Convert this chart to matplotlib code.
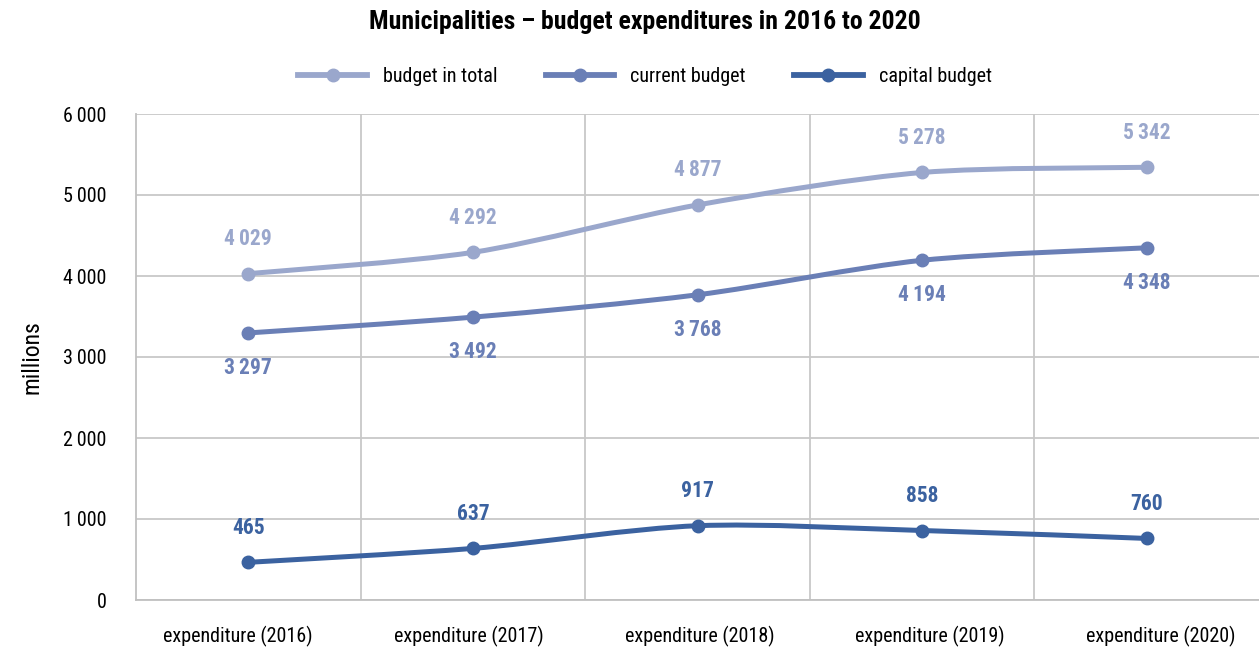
import matplotlib
matplotlib.use("Agg")
import matplotlib.pyplot as plt
from matplotlib.path import Path
from matplotlib.patches import PathPatch
from matplotlib.lines import Line2D
from matplotlib.transforms import ScaledTranslation
from matplotlib.ticker import FuncFormatter, MultipleLocator, FixedLocator

plt.rcParams['font.family'] = ['Roboto Condensed', 'Roboto', 'DejaVu Sans']

categories = ["expenditure (2016)", "expenditure (2017)", "expenditure (2018)",
              "expenditure (2019)", "expenditure (2020)"]
budget_total = [4029, 4292, 4877, 5278, 5342]
budget_current = [3297, 3492, 3768, 4194, 4348]
budget_capital = [465, 637, 917, 858, 760]

series = [
    ("budget in total", budget_total, "#9aa7cc", 1),
    ("current budget", budget_current, "#6a7fb6", -1),
    ("capital budget", budget_capital, "#3b62a0", 1),
]


def fmt_thousands(v):
    s = f"{int(round(v)):,}"
    return s.replace(",", "\u2009")


def smooth_path(xs, ys, k=1 / 7):
    # Cubic Bezier segments with Catmull-Rom style tangents
    n = len(xs)
    verts = [(xs[0], ys[0])]
    codes = [Path.MOVETO]
    for i in range(n - 1):
        x0, y0 = (xs[i - 1], ys[i - 1]) if i > 0 else (xs[i], ys[i])
        x1, y1 = xs[i], ys[i]
        x2, y2 = xs[i + 1], ys[i + 1]
        x3, y3 = (xs[i + 2], ys[i + 2]) if i + 2 < n else (xs[i + 1], ys[i + 1])
        c1 = (x1 + (x2 - x0) * k, y1 + (y2 - y0) * k)
        c2 = (x2 - (x3 - x1) * k, y2 - (y3 - y1) * k)
        verts += [c1, c2, (x2, y2)]
        codes += [Path.CURVE4] * 3
    return Path(verts, codes)


fig = plt.figure(figsize=(12.59, 6.52), dpi=100)
ax = fig.add_axes([136 / 1259, 1 - 600 / 652, 1 - 136 / 1259, (600 - 114) / 652])

x = list(range(len(categories)))
handles = []
for name, vals, color, side in series:
    patch = PathPatch(smooth_path(x, vals), facecolor="none", edgecolor=color,
                      lw=3.6, capstyle="round", joinstyle="round", zorder=3)
    ax.add_patch(patch)
    ax.plot(x, vals, linestyle="none", marker="o", markersize=9,
            color=color, zorder=4)
    for xi, v in zip(x, vals):
        ax.annotate(fmt_thousands(v), (xi, v), xytext=(0, 25 * side),
                    textcoords="offset points", ha="center", va="center",
                    fontsize=15.5, fontweight="bold", color=color)
    handles.append(Line2D([], [], color=color, lw=4.2, marker="o",
                          markersize=9, label=name))

ax.set_xlim(-0.5, len(categories) - 0.5)
ax.set_ylim(0, 6000)
ax.yaxis.set_major_locator(MultipleLocator(1000))
ax.yaxis.set_major_formatter(FuncFormatter(lambda v, p: fmt_thousands(v)))
ax.set_xticks(x)
ax.set_xticklabels(categories, fontsize=14.5)
ax.xaxis.set_minor_locator(FixedLocator([i + 0.5 for i in range(len(categories) - 1)]))
ax.tick_params(axis="x", which="both", length=0, pad=19)
ax.tick_params(axis="y", length=0, labelsize=14.5, pad=21)
ax.grid(axis="y", which="major", color="#c8c8c8", lw=1.3)
ax.grid(axis="x", which="minor", color="#c8c8c8", lw=1.3)
ax.set_axisbelow(True)
for sp in ["top", "right"]:
    ax.spines[sp].set_visible(False)
for sp in ["left", "bottom"]:
    ax.spines[sp].set_color("#c0c0c0")
    ax.spines[sp].set_linewidth(1.3)

# spread the category labels slightly wider than the category centres
mid = (len(categories) - 1) / 2
for i, lbl in enumerate(ax.get_xticklabels()):
    dx = ((i - mid) * 6 + 2) / fig.dpi
    lbl.set_transform(lbl.get_transform() + ScaledTranslation(dx, 0, fig.dpi_scale_trans))

ax.set_ylabel("millions", fontsize=17, labelpad=14)

fig.text(645 / 1259, 1 - 22 / 652, "Municipalities \u2013 budget expenditures in 2016 to 2020",
         ha="center", va="center", fontsize=18.5, fontweight="bold")
fig.legend(handles=handles, loc="center", bbox_to_anchor=(645 / 1259, 1 - 77 / 652),
           ncol=3, frameon=False, fontsize=14.5, handlelength=3.4,
           columnspacing=2.4, handletextpad=0.8)

fig.savefig("out.png", dpi=100)
